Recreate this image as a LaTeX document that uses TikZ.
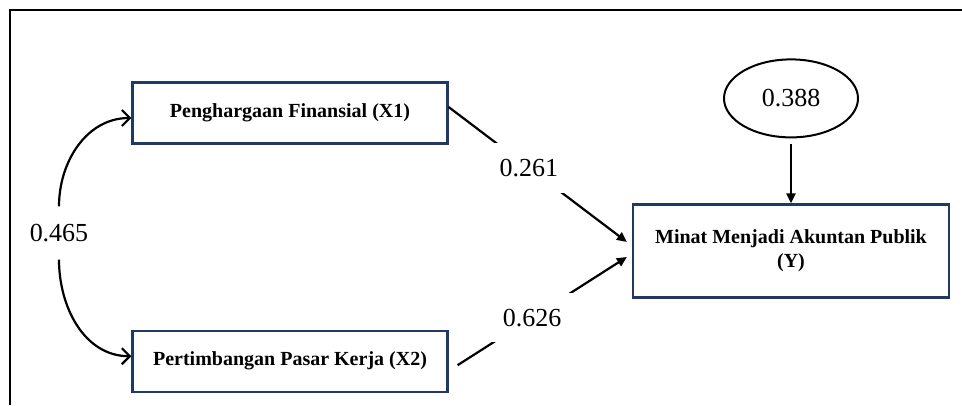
\documentclass[tikz,border=0pt]{standalone}
\usepackage{fontspec}
\setmainfont{Liberation Serif}
\usepackage{xcolor}
\definecolor{boxblue}{RGB}{31, 56, 100}
\usetikzlibrary{
    shapes.geometric,
    arrows.meta,
    positioning
}
\tikzstyle{box} = [
    rectangle,
    draw=boxblue,
    line width=2.2pt,
    minimum width=315pt,
    minimum height=61pt,
    inner sep=0pt,
    text centered,
    align=center,
    font=\fontsize{20}{24}\selectfont\bfseries
]
\tikzstyle{error} = [
    ellipse,
    draw,
    line width=2pt,
    minimum width=134pt,
    minimum height=78pt,
    inner sep=0pt,
    font=\fontsize{26}{30}\selectfont
]
\tikzstyle{coef} = [
    fill=white,
    inner sep=16pt,
    font=\fontsize{26}{30}\selectfont
]
\tikzstyle{arrow} = [
    line width=2.2pt,
    -{Triangle[length=10pt,width=9pt]}
]
\tikzstyle{covar} = [
    line width=2.2pt,
    -{Straight Barb[length=8pt,width=16pt]}
]
\begin{document}
\begin{tikzpicture}[
	x=1pt, y=1pt,
	node distance=185pt and 185pt
]
\useasboundingbox (0,0) rectangle (962,405);

% Rahmen
\draw [line width=2pt] (10,0) -- (10,395) -- (962,395);

\node (x1) [box] at (290,292)
    {Penghargaan Finansial (X1)};
\node (x2) [box, below=of x1]
    {Pertimbangan Pasar Kerja (X2)};
\node (y) [box, minimum width=316pt, minimum height=93pt] at (791,154)
    {Minat Menjadi Akuntan Publik\\(Y)};
\node (e) [error, above=65pt of y]
    {0.388};

% Korrelation
\node (r) [font=\fontsize{26}{30}\selectfont, minimum height=53pt, inner sep=0pt] at (59,172)
    {0.465};
\draw [covar] (r.north) to[out=90, in=180] ([yshift=-5pt]x1.west);
\draw [covar] (r.south) to[out=-90, in=180] ([yshift=5pt]x2.west);

\draw [arrow] ([yshift=6pt]x1.east) -- node[coef, pos=0.45] {0.261}
              ([xshift=-5pt, yshift=9pt]y.west);
\draw [arrow] ([xshift=9pt, yshift=-4pt]x2.east) -- node[coef, pos=0.44] {0.626}
              ([xshift=-5pt, yshift=-6pt]y.west);
\draw [arrow] ([yshift=-6pt]e.south) -- (y.north);

\end{tikzpicture}
\end{document}
